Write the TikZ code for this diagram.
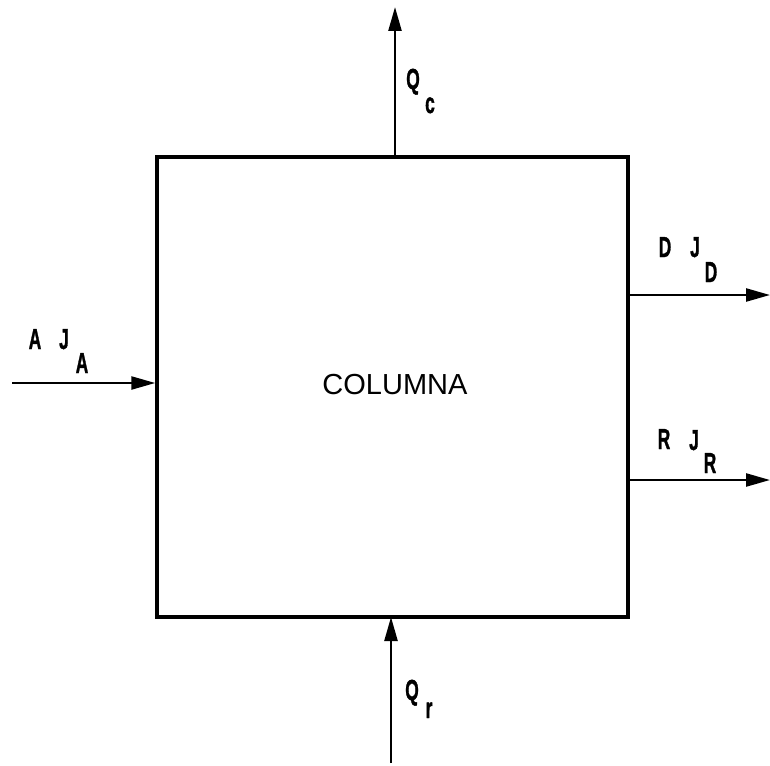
\documentclass[tikz,border=0pt]{standalone}
\usepackage{fontspec}
\setmainfont{Liberation Sans}
\newfontfamily\labfont[FakeBold=1.5]{Liberation Sans}
\newcommand\narrowtxt[1]{\scalebox{0.6}[1]{#1}}
\usetikzlibrary{arrows.meta}
\tikzset{
  boxline/.style={line width=3.4pt},
  flow/.style={line width=2.4pt,-{Triangle[length=24pt,width=13pt]}},
  lab/.style={anchor=base,inner sep=0pt,font=\labfont\bfseries\fontsize{29}{31}\selectfont},
  title/.style={anchor=base,inner sep=0pt,font=\fontsize{29}{32}\selectfont}
}
\begin{document}
\begin{tikzpicture}[x=1pt,y=-1pt]
\useasboundingbox (0,0) rectangle (770,765);
\node[boxline,draw,minimum width=471pt,minimum height=460pt,inner sep=0pt] (col) at (392.5,387) {};
\node[title] (t) at (395,394) {COLUMNA};
% feed A
\coordinate (ain) at (12,383);
\coordinate (aend) at (col.west |- ain);
\draw[flow] (ain) -- (aend);
\node[lab] (la) at (35,349) {\narrowtxt{A}};
\node[lab] (lja) at (64,349) {\narrowtxt{J}};
\node[lab] (lsa) at (82,373) {\narrowtxt{A}};
% Qc
\coordinate (qcs) at (395,157);
\coordinate (qce) at (395,7);
\draw[flow] (qcs) -- (qce);
\node[lab] (lqc) at (413,89) {\narrowtxt{Q}};
\node[lab] (lc) at (430,113) {\narrowtxt{c}};
% D
\coordinate (ds) at (628,295);
\coordinate (de) at (770,295);
\draw[flow] (ds) -- (de);
\node[lab] (ld) at (665,257) {\narrowtxt{D}};
\node[lab] (ljd) at (695,257) {\narrowtxt{J}};
\node[lab] (lsd) at (711,282) {\narrowtxt{D}};
% R
\coordinate (rs) at (628,480);
\coordinate (re) at (770,480);
\draw[flow] (rs) -- (re);
\node[lab] (lr) at (664,449) {\narrowtxt{R}};
\node[lab] (ljr) at (694,450) {\narrowtxt{J}};
\node[lab] (lsr) at (710,473) {\narrowtxt{R}};
% Qr
\coordinate (qrs) at (391,763);
\coordinate (qre) at (391,617);
\draw[flow] (qrs) -- (qre);
\node[lab] (lqr) at (412,700) {\narrowtxt{Q}};
\node[lab] (lrr) at (429,718) {\narrowtxt{r}};
\end{tikzpicture}
\end{document}
